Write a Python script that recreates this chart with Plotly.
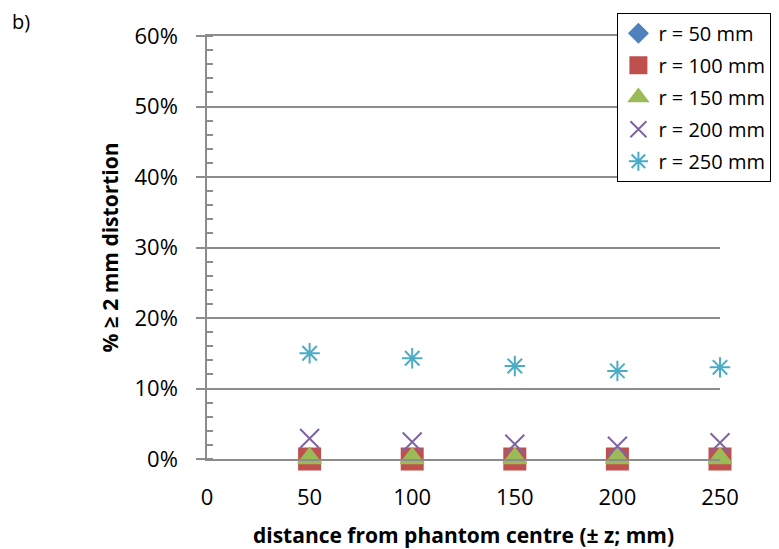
import plotly.graph_objects as go

distance = [50, 100, 150, 200, 250]
r50 = [0.0, 0.0, 0.0, 0.0, 0.0]
r100 = [0.0, 0.0, 0.0, 0.0, 0.0]
r150 = [0.001, 0.001, 0.001, 0.001, 0.001]
r200 = [0.029, 0.024, 0.021, 0.018, 0.023]
r250 = [0.150, 0.143, 0.132, 0.125, 0.130]

names = ["r = 50 mm", "r = 100 mm", "r = 150 mm", "r = 200 mm", "r = 250 mm"]
series = [r50, r100, r150, r200, r250]
colors = ["#4F81BD", "#C0504D", "#9BBB59", "#8064A2", "#4BACC6"]
symbols = ["diamond", "square", "triangle-up", "x-thin-open", "asterisk-open"]
sizes = [14, 21, 20, 19, 17]

FONT = "Open Sans"
FS = 22

fig = go.Figure()
for i, (nm, ys) in enumerate(zip(names, series)):
    fig.add_trace(go.Scatter(
        x=distance, y=ys, mode="markers", name=nm, legendgroup=f"g{i}",
        cliponaxis=False,
        marker=dict(symbol=symbols[i], size=sizes[i], color=colors[i],
                    line=dict(color=colors[i], width=2)),
    ))

grid = "#8c8c8c"
fig.update_layout(
    width=779, height=549,
    margin=dict(l=207, r=59, t=36, b=90, autoexpand=False),
    paper_bgcolor="white", plot_bgcolor="white",
    font=dict(family=FONT, size=FS, color="black"),
    showlegend=True,
    legend=dict(x=0.80, y=1.055, xanchor="left", yanchor="top",
                bordercolor="black", borderwidth=1, bgcolor="white",
                font=dict(family=FONT, size=FS - 2), tracegroupgap=3,
                traceorder="grouped", itemwidth=30),
    xaxis=dict(range=[0, 250], tickvals=[0, 50, 100, 150, 200, 250],
               automargin=False,
               showgrid=False, zeroline=False, showline=True, mirror=True,
               linecolor=grid, linewidth=1.5, ticks="",
               ticklabelstandoff=18,
               title=dict(text="<b>distance from phantom centre (± z; mm)</b>",
                          font=dict(family=FONT, size=FS - 1), standoff=19)),
    yaxis=dict(range=[0, 0.6], dtick=0.1, tickformat=".0%",
               automargin=False,
               showgrid=True, gridcolor=grid, gridwidth=1.5,
               zeroline=False, showline=True, linecolor=grid, linewidth=1.5,
               ticks="outside", ticklen=9, tickcolor=grid, tickwidth=1.5,
               ticklabelstandoff=14,
               minor=dict(dtick=0.02, ticks="inside", ticklen=6,
                          tickcolor=grid, tickwidth=1.5, showgrid=False),
               title=dict(text="<b>% ≥ 2 mm distortion</b>",
                          font=dict(family=FONT, size=FS - 1), standoff=10)),
)
fig.add_annotation(text="b)", xref="paper", yref="paper",
                   x=-197/513, y=1 + 14/423, xanchor="left", yanchor="middle",
                   showarrow=False, font=dict(family=FONT, size=FS - 2))

fig.write_html("out.html")
